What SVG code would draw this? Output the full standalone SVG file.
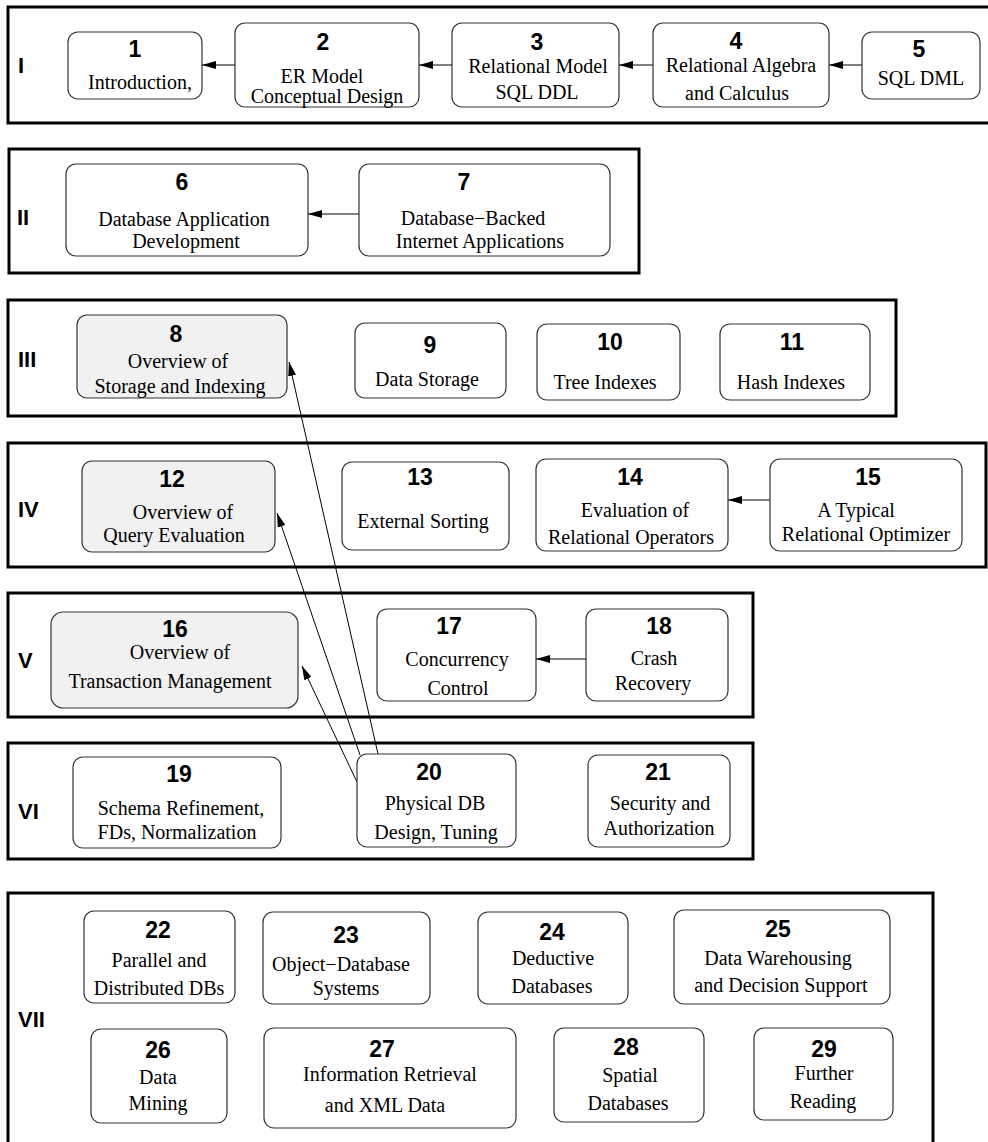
<svg xmlns="http://www.w3.org/2000/svg" width="988" height="1142" viewBox="0 0 988 1142">
<style>
.frame{fill:none;stroke:#000;stroke-width:3}
.node{fill:#fff;stroke:#333;stroke-width:1.2}
.gray{fill:#f1f1f1}
.num{font-family:"Liberation Sans",Arial,sans-serif;font-weight:bold;font-size:23px;text-anchor:middle;fill:#000}
.txt{font-family:"Liberation Serif","Times New Roman",serif;font-size:20px;text-anchor:middle;fill:#000}
.lab{font-family:"Liberation Sans",Arial,sans-serif;font-weight:bold;font-size:22px;fill:#000}
.edge{stroke:#000;stroke-width:1;fill:none;marker-end:url(#ah)}
</style>
<defs>
<marker id="ah" markerUnits="userSpaceOnUse" markerWidth="14" markerHeight="8" refX="14" refY="4" orient="auto">
<path d="M0,0 L14,4 L0,8 z" fill="#000"/>
</marker>
</defs>
<rect width="988" height="1142" fill="#fff"/>
<g id="frames">
<rect class="frame" x="8" y="7" width="992" height="116"/>
<rect class="frame" x="9" y="149" width="630" height="124"/>
<rect class="frame" x="8" y="300" width="888" height="116"/>
<rect class="frame" x="8" y="443" width="978" height="124"/>
<rect class="frame" x="8" y="593" width="745" height="124"/>
<rect class="frame" x="8" y="743" width="745" height="116"/>
<rect class="frame" x="8" y="893" width="925" height="300"/>
</g>
<g id="labels">
<text class="lab" x="18" y="73">I</text>
<text class="lab" x="17" y="225">II</text>
<text class="lab" x="18" y="367">III</text>
<text class="lab" x="18" y="517">IV</text>
<text class="lab" x="18" y="668">V</text>
<text class="lab" x="18" y="819">VI</text>
<text class="lab" x="18" y="1027">VII</text>
</g>
<g id="connectors">
<line class="edge" x1="235" y1="65" x2="202" y2="65"/>
<line class="edge" x1="452" y1="65" x2="419" y2="65"/>
<line class="edge" x1="653" y1="65" x2="619" y2="65"/>
<line class="edge" x1="862" y1="65" x2="829" y2="65"/>
<line class="edge" x1="359" y1="214" x2="308" y2="214"/>
<line class="edge" x1="770" y1="500" x2="728" y2="500"/>
<line class="edge" x1="586" y1="659" x2="536" y2="659"/>
<line class="edge" x1="378" y1="754" x2="289" y2="362"/>
<line class="edge" x1="360" y1="755" x2="277" y2="513"/>
<line class="edge" x1="357" y1="782" x2="302" y2="666"/>
</g>
<g id="n1"><rect class="node" x="68" y="32" width="134" height="67" rx="10"/><text class="num" x="135" y="57">1</text><text class="txt" x="140" y="89">Introduction,</text></g>
<g id="n2"><rect class="node" x="235" y="23" width="184" height="84" rx="10"/><text class="num" x="323" y="50">2</text><text class="txt" x="322" y="83">ER Model</text><text class="txt" x="327" y="103">Conceptual Design</text></g>
<g id="n3"><rect class="node" x="452" y="23" width="167" height="84" rx="10"/><text class="num" x="537" y="50">3</text><text class="txt" x="538" y="73">Relational Model</text><text class="txt" x="537" y="99">SQL DDL</text></g>
<g id="n4"><rect class="node" x="653" y="23" width="176" height="84" rx="10"/><text class="num" x="736" y="49">4</text><text class="txt" x="741" y="72">Relational Algebra</text><text class="txt" x="737" y="100">and Calculus</text></g>
<g id="n5"><rect class="node" x="862" y="32" width="118" height="67" rx="10"/><text class="num" x="919" y="57">5</text><text class="txt" x="921" y="85">SQL DML</text></g>
<g id="n6"><rect class="node" x="66" y="164" width="242" height="92" rx="10"/><text class="num" x="182" y="190">6</text><text class="txt" x="184" y="226">Database Application</text><text class="txt" x="186" y="248">Development</text></g>
<g id="n7"><rect class="node" x="359" y="164" width="251" height="92" rx="10"/><text class="num" x="464" y="190">7</text><text class="txt" x="473" y="225">Database−Backed</text><text class="txt" x="480" y="248">Internet Applications</text></g>
<g id="n8"><rect class="node gray" x="77" y="315" width="210" height="83" rx="10"/><text class="num" x="176" y="342">8</text><text class="txt" x="178" y="368">Overview of</text><text class="txt" x="180" y="393">Storage and Indexing</text></g>
<g id="n9"><rect class="node" x="355" y="323" width="151" height="75" rx="10"/><text class="num" x="430" y="353">9</text><text class="txt" x="427" y="386">Data Storage</text></g>
<g id="n10"><rect class="node" x="537" y="324" width="143" height="76" rx="10"/><text class="num" x="610" y="350">10</text><text class="txt" x="605" y="389">Tree Indexes</text></g>
<g id="n11"><rect class="node" x="720" y="324" width="150" height="76" rx="10"/><text class="num" x="792" y="350">11</text><text class="txt" x="791" y="389">Hash Indexes</text></g>
<g id="n12"><rect class="node gray" x="82" y="461" width="193" height="91" rx="10"/><text class="num" x="172" y="487">12</text><text class="txt" x="183" y="519">Overview of</text><text class="txt" x="174" y="542">Query Evaluation</text></g>
<g id="n13"><rect class="node" x="342" y="462" width="167" height="88" rx="10"/><text class="num" x="420" y="485">13</text><text class="txt" x="423" y="528">External Sorting</text></g>
<g id="n14"><rect class="node" x="536" y="459" width="192" height="92" rx="10"/><text class="num" x="630" y="485">14</text><text class="txt" x="635" y="517">Evaluation of</text><text class="txt" x="631" y="544">Relational Operators</text></g>
<g id="n15"><rect class="node" x="770" y="459" width="192" height="92" rx="10"/><text class="num" x="868" y="485">15</text><text class="txt" x="856" y="517">A Typical</text><text class="txt" x="866" y="541">Relational Optimizer</text></g>
<g id="n16"><rect class="node gray" x="51" y="612" width="247" height="96" rx="12"/><text class="num" x="175" y="637">16</text><text class="txt" x="180" y="659">Overview of</text><text class="txt" x="170" y="688">Transaction Management</text></g>
<g id="n17"><rect class="node" x="377" y="609" width="159" height="92" rx="10"/><text class="num" x="449" y="634">17</text><text class="txt" x="457" y="666">Concurrency</text><text class="txt" x="458" y="695">Control</text></g>
<g id="n18"><rect class="node" x="586" y="609" width="142" height="92" rx="10"/><text class="num" x="659" y="634">18</text><text class="txt" x="654" y="665">Crash</text><text class="txt" x="653" y="690">Recovery</text></g>
<g id="n19"><rect class="node" x="73" y="757" width="208" height="91" rx="10"/><text class="num" x="179" y="782">19</text><text class="txt" x="181" y="815">Schema Refinement,</text><text class="txt" x="177" y="839">FDs, Normalization</text></g>
<g id="n20"><rect class="node" x="357" y="754" width="159" height="93" rx="10"/><text class="num" x="429" y="780">20</text><text class="txt" x="435" y="810">Physical DB</text><text class="txt" x="436" y="839">Design, Tuning</text></g>
<g id="n21"><rect class="node" x="588" y="755" width="142" height="92" rx="10"/><text class="num" x="658" y="780">21</text><text class="txt" x="660" y="810">Security and</text><text class="txt" x="659" y="835">Authorization</text></g>
<g id="n22"><rect class="node" x="84" y="911" width="151" height="92" rx="10"/><text class="num" x="158" y="938">22</text><text class="txt" x="159" y="967">Parallel and</text><text class="txt" x="159" y="995">Distributed DBs</text></g>
<g id="n23"><rect class="node" x="263" y="912" width="167" height="92" rx="10"/><text class="num" x="346" y="943">23</text><text class="txt" x="341" y="971">Object−Database</text><text class="txt" x="346" y="995">Systems</text></g>
<g id="n24"><rect class="node" x="478" y="912" width="150" height="92" rx="10"/><text class="num" x="552" y="940">24</text><text class="txt" x="553" y="965">Deductive</text><text class="txt" x="552" y="993">Databases</text></g>
<g id="n25"><rect class="node" x="674" y="910" width="216" height="94" rx="10"/><text class="num" x="778" y="937">25</text><text class="txt" x="778" y="965">Data Warehousing</text><text class="txt" x="781" y="992">and Decision Support</text></g>
<g id="n26"><rect class="node" x="91" y="1029" width="136" height="94" rx="10"/><text class="num" x="158" y="1058">26</text><text class="txt" x="158" y="1084">Data</text><text class="txt" x="158" y="1110">Mining</text></g>
<g id="n27"><rect class="node" x="264" y="1028" width="252" height="100" rx="10"/><text class="num" x="382" y="1057">27</text><text class="txt" x="390" y="1081">Information Retrieval</text><text class="txt" x="385" y="1112">and XML Data</text></g>
<g id="n28"><rect class="node" x="554" y="1028" width="150" height="94" rx="10"/><text class="num" x="626" y="1055">28</text><text class="txt" x="630" y="1082">Spatial</text><text class="txt" x="628" y="1110">Databases</text></g>
<g id="n29"><rect class="node" x="754" y="1028" width="139" height="92" rx="10"/><text class="num" x="824" y="1057">29</text><text class="txt" x="824" y="1080">Further</text><text class="txt" x="823" y="1108">Reading</text></g>
</svg>
